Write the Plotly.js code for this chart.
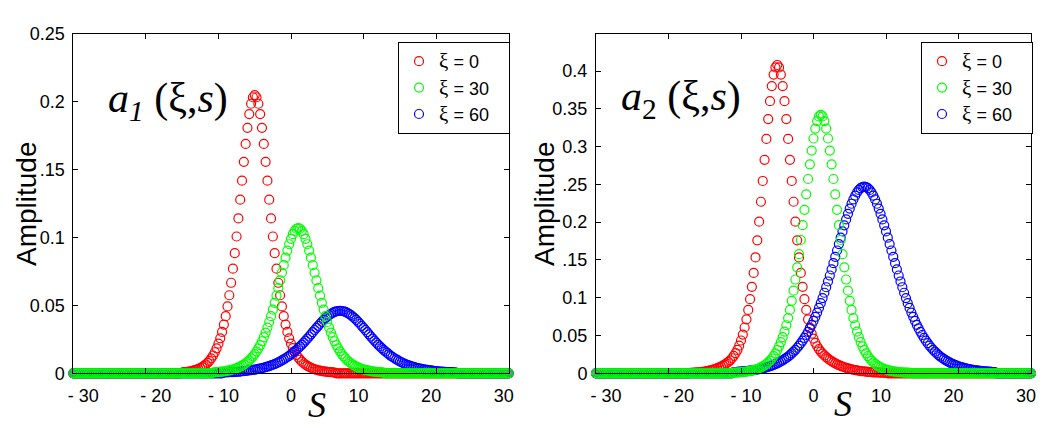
<!DOCTYPE html>
<html>
<head>
<meta charset="utf-8">
<script src="https://cdn.plot.ly/plotly-3.0.1.min.js"></script>
<style>
  html, body { margin: 0; padding: 0; background: #fff; }
  #plot { width: 1056px; height: 428px; }
</style>
</head>
<body>
<div id="plot"></div>
<script>
// a1(xi, s) and a2(xi, s), one value every 0.25 in s

const sStep = 0.25;
const sRange = [-30, 30];

const sTickVals = [-30, -20, -10, 0, 10, 20, 30];
const sTickText = ['- 30', '- 20', '- 10', '0', '10', '20', '30'];
const a1TickVals = [0, 0.05, 0.1, 0.15, 0.2, 0.25];
const a1TickText = ['0', '0.05', '0.1', '.15', '0.2', '0.25'];
const a2TickVals = [0, 0.05, 0.1, 0.15, 0.2, 0.25, 0.3, 0.35, 0.4];
const a2TickText = ['0', '0.05', '0.1', '.15', '0.2', '.25', '0.3', '0.35', '0.4'];

const xiValues = ['0', '30', '60'];
const seriesColors = ['#ff0000', '#00ff00', '#0000ff'];

// first s of each read span (xi = 0, 30, 60); outside it the curve lies on the axis
const a1Start = [-15, -10.75, -9.25];
const a2Start = [-17, -11.25, -11];

const a1Xi0 = [
    .0006, .0008, .0009, .0011, .0013, .0016, .0019, .0023, .0027, .0032,
    .0038, .0046, .0055, .0065, .0077, .0092, .0110, .0131, .0155, .0184,
    .0218, .0258, .0305, .0359, .0421, .0493, .0575, .0667, .0771, .0885,
    .1008, .1141, .1279, .1419, .1558, .1690, .1809, .1910, .1986, .2034,
    .2050,
    .2034, .1986, .1910, .1809, .1690, .1558, .1419, .1279, .1141, .1008,
    .0885, .0771, .0667, .0575, .0493, .0421, .0359, .0305, .0258, .0218,
    .0186, .0159, .0136, .0117, .0100, .0086, .0074, .0064, .0055, .0047,
    .0041, .0035, .0030, .0026, .0022, .0019, .0016, .0014, .0012, .0010,
    .0009, .0008, .0007, .0006
];

const a1Xi30 = [
    .0006, .0007, .0008, .0009, .0011, .0012, .0014, .0016, .0019, .0022,
    .0025, .0028, .0033, .0037, .0043, .0049, .0056, .0064, .0074, .0084,
    .0096, .0110, .0125, .0142, .0162, .0184, .0208, .0236, .0266, .0300,
    .0337, .0378, .0421, .0469, .0519, .0572, .0627, .0684, .0741, .0797,
    .0852, .0904, .0951, .0991, .1025, .1050, .1065,
    .1070,
    .1065, .1050, .1025, .0991, .0951, .0904, .0852,
    .0797, .0741, .0684, .0627, .0572, .0519, .0469, .0421, .0378, .0337,
    .0300, .0266, .0236, .0208, .0184, .0162, .0142, .0125, .0110, .0096,
    .0084, .0074, .0064, .0056, .0049, .0043, .0037, .0033, .0028, .0025,
    .0022, .0019, .0016, .0014, .0012, .0011, .0009, .0008, .0007, .0006
];

const a1Xi60 = [
    .0006, .0007, .0007, .0008, .0009, .0009, .0010, .0011, .0012, .0013,
    .0015, .0016, .0017, .0019, .0021, .0023, .0025, .0027, .0029, .0032,
    .0035, .0038, .0041, .0045, .0049, .0053, .0058, .0063, .0068, .0074,
    .0080, .0087, .0095, .0102, .0111, .0120, .0129, .0139, .0150, .0161,
    .0173, .0185, .0198, .0212, .0226, .0241, .0256, .0271, .0287, .0303,
    .0319, .0334, .0350, .0365, .0379, .0393, .0406, .0418, .0429, .0438,
    .0446, .0452, .0456, .0459,
    .0460,
    .0459, .0456, .0452, .0446,
    .0438, .0429, .0418, .0406, .0393, .0379, .0365, .0350, .0334, .0319,
    .0303, .0287, .0271, .0256, .0241, .0226, .0212, .0198, .0185, .0173,
    .0161, .0150, .0139, .0129, .0120, .0111, .0102, .0095, .0087, .0080,
    .0074, .0068, .0063, .0058, .0053, .0049, .0045, .0041, .0038, .0035,
    .0032, .0029, .0027, .0025, .0023, .0021, .0019, .0017, .0016, .0015,
    .0013, .0012, .0011, .0010, .0009, .0009, .0008, .0007, .0007, .0006
];

const a2Xi0 = [
    .0006, .0007, .0008, .0010, .0012, .0014, .0017, .0020, .0024, .0028,
    .0033, .0038, .0044, .0051, .0059, .0068, .0078, .0089, .0101, .0115,
    .0131, .0150, .0172, .0199, .0230, .0266, .0309, .0366, .0434, .0513,
    .0606, .0714, .0838, .0981, .1144, .1328, .1534, .1760, .2007, .2270,
    .2545, .2825, .3101, .3364, .3601, .3801, .3953, .4048,
    .4080,
    .4048, .3953, .3801, .3601, .3364, .3101, .2825, .2545, .2270, .2007,
    .1760, .1534, .1328, .1144, .0981, .0838, .0714, .0606,
    .0525, .0458, .0403, .0358, .0320, .0288, .0260, .0236, .0214, .0194,
    .0176, .0160, .0145, .0131, .0119, .0108, .0098, .0089, .0080, .0072,
    .0065, .0058, .0052, .0047, .0042, .0038, .0034, .0030, .0027, .0024,
    .0021, .0019, .0017, .0015, .0013, .0012, .0011, .0010, .0009, .0008,
    .0007, .0006
];

const a2Xi30 = [
    .0006, .0008, .0009, .0010, .0012, .0014, .0016, .0019, .0023, .0026,
    .0031, .0036, .0042, .0049, .0057, .0067, .0078, .0091, .0106, .0124,
    .0144, .0168, .0196, .0228, .0264, .0307, .0356, .0413, .0478, .0552,
    .0636, .0731, .0839, .0959, .1093, .1241, .1402, .1577, .1764, .1960,
    .2163, .2368, .2571, .2766, .2947, .3107, .3239, .3338, .3399,
    .3420,
    .3399, .3338, .3239, .3107, .2947, .2766, .2571, .2368, .2163,
    .1960, .1764, .1577, .1402, .1241, .1093, .0959, .0839, .0731, .0636,
    .0552, .0478, .0413, .0356, .0307, .0264, .0228, .0196, .0168, .0144,
    .0124, .0106, .0091, .0078, .0067, .0057, .0049, .0042, .0036, .0031,
    .0026, .0023, .0019, .0016, .0014, .0012, .0010, .0009, .0008, .0006
];

const a2Xi60 = [
    .0016, .0017, .0019, .0021, .0023, .0025, .0027, .0030, .0032, .0035,
    .0039, .0042, .0046, .0050, .0055, .0060, .0066, .0072, .0078, .0086,
    .0093, .0102, .0111, .0121, .0132, .0144, .0157, .0172, .0187, .0204,
    .0222, .0241, .0263, .0286, .0311, .0338, .0367, .0398, .0432, .0468,
    .0507, .0549, .0594, .0642, .0693, .0747, .0804, .0865, .0928, .0996,
    .1066, .1139, .1215, .1294, .1374, .1457, .1541, .1625, .1710, .1795,
    .1878, .1958, .2036, .2111, .2180, .2244, .2301, .2351, .2393, .2426,
    .2450, .2465,
    .2470,
    .2465, .2450,
    .2426, .2393, .2351, .2301, .2244, .2180, .2111, .2036, .1958, .1878,
    .1795, .1710, .1625, .1541, .1457, .1374, .1294, .1215, .1139, .1066,
    .0996, .0928, .0865, .0804, .0747, .0693, .0642, .0594, .0549, .0507,
    .0468, .0432, .0398, .0367, .0338, .0311, .0286, .0263, .0241, .0222,
    .0204, .0187, .0172, .0157, .0144, .0132, .0121, .0111, .0102, .0093,
    .0086, .0078, .0072, .0066, .0060, .0055, .0050, .0046, .0042, .0039,
    .0035, .0032, .0030, .0027, .0025, .0023, .0021, .0019, .0017, .0016
];

const W = 1056, H = 428;
const sansFont = '"Liberation Sans", Arial, sans-serif';
const serifFont = '"Liberation Serif", "Times New Roman", serif';
const nbsp = '\u00a0';

// place a read span on the full s grid, zero where the curve sits on the axis
function onGrid(start, values) {
    const x = [], y = [];
    const n = Math.round((sRange[1] - sRange[0]) / sStep);
    for (let i = 0; i <= n; i++) {
        const s = sRange[0] + i * sStep;
        const k = Math.round((s - start) / sStep);
        x.push(s);
        y.push(k >= 0 && k < values.length ? values[k] : 0);
    }
    return { x, y };
}

// legend label: serif xi as in the picture, trailing room so the box is as wide
function xiLabel(v) {
    return '<span style="font-family:Liberation Serif;font-size:21px">ξ</span> = ' + v + nbsp.repeat(3);
}

function makeTrace(values, start, idx, axisSuffix, legendId) {
    const pts = onGrid(start, values);
    return {
        x: pts.x,
        y: pts.y,
        xaxis: 'x' + axisSuffix,
        yaxis: 'y' + axisSuffix,
        type: 'scatter',
        mode: 'markers',
        name: xiLabel(xiValues[idx]),
        legend: legendId,
        legendrank: idx + 1,
        cliponaxis: false,
        hoverinfo: 'skip',
        marker: { symbol: 'circle-open', size: 9, color: seriesColors[idx], line: { width: 1.2 } }
    };
}

const a1Series = [a1Xi0, a1Xi30, a1Xi60];
const a2Series = [a2Xi0, a2Xi30, a2Xi60];

// green goes on top, as in the picture
let traces = [];
[0, 2, 1].forEach(i => traces.push(makeTrace(a1Series[i], a1Start[i], i, '', 'legend')));
[0, 2, 1].forEach(i => traces.push(makeTrace(a2Series[i], a2Start[i], i, '2', 'legend2')));

const tickFont = { family: sansFont, size: 18, color: '#000' };
const yDomain = [1 - 373.3 / H, 1 - 34 / H];

// the s labels sit a little off their ticks in the picture: pad with no-break spaces
const sTickPad = [4, 4, 2, 0, -2, -2, -2];
const sTickShown = sTickText.map((t, i) => sTickPad[i] > 0
    ? nbsp.repeat(sTickPad[i]) + t
    : t + nbsp.repeat(-sTickPad[i]));

function sAxis(left, right, anchor) {
    return {
        domain: [left / W, right / W], anchor: anchor,
        range: sRange, tickvals: sTickVals, ticktext: sTickShown,
        ticks: 'inside', ticklen: 5, tickcolor: '#000',
        showline: true, linecolor: '#000', linewidth: 1, mirror: 'ticks',
        showgrid: false, zeroline: false, fixedrange: true,
        tickfont: tickFont, ticklabelstandoff: 6
    };
}

function ampAxis(top, vals, text, anchor) {
    return {
        domain: yDomain, anchor: anchor,
        range: [0, top], tickvals: vals, ticktext: text,
        ticks: 'inside', ticklen: 5, tickcolor: '#000',
        showline: true, linecolor: '#000', linewidth: 1, mirror: 'ticks',
        showgrid: false, zeroline: false, fixedrange: true,
        tickfont: tickFont, ticklabelstandoff: 4
    };
}

function legendBox(left) {
    return {
        x: left / W, y: 1 - 42 / H, xanchor: 'left', yanchor: 'top',
        bgcolor: '#fff', bordercolor: '#000', borderwidth: 1,
        font: { family: sansFont, size: 18, color: '#000' },
        itemclick: false, itemdoubleclick: false
    };
}

function note(px, py, text, font, angle) {
    return {
        xref: 'paper', yref: 'paper', x: px / W, y: 1 - py / H,
        xanchor: 'center', yanchor: 'middle', showarrow: false,
        text: text, font: font, textangle: angle || 0
    };
}

const labelFont = { family: serifFont, size: 42, color: '#000' };
const sFont = { family: serifFont, size: 36, color: '#000' };
const ampFont = { family: sansFont, size: 28, color: '#000' };

const layout = {
    width: W,
    height: H,
    margin: { l: 0, r: 0, t: 0, b: 0 },
    paper_bgcolor: '#fff',
    plot_bgcolor: '#fff',
    showlegend: true,
    xaxis: sAxis(73.3, 508.7, 'y'),
    yaxis: ampAxis(0.25, a1TickVals, a1TickText, 'x'),
    xaxis2: sAxis(596, 1031, 'y2'),
    yaxis2: ampAxis(0.449, a2TickVals, a2TickText, 'x2'),
    legend: legendBox(398),
    legend2: legendBox(921),
    annotations: [
        note(168, 101, '<i>a</i><sub><i>1</i></sub> (ξ,<i>s</i>)', labelFont),
        note(681, 99, '<i>a</i><sub>2</sub> (ξ,<i>s</i>)', labelFont),
        note(27, 204, 'Amplitude', ampFont, -90),
        note(545, 204, 'Amplitude', ampFont, -90),
        note(317, 405, '<i>S</i>', sFont),
        note(843, 404, '<i>S</i>', sFont)
    ]
};

Plotly.newPlot('plot', traces, layout, { displayModeBar: false, staticPlot: true });
</script>
</body>
</html>
